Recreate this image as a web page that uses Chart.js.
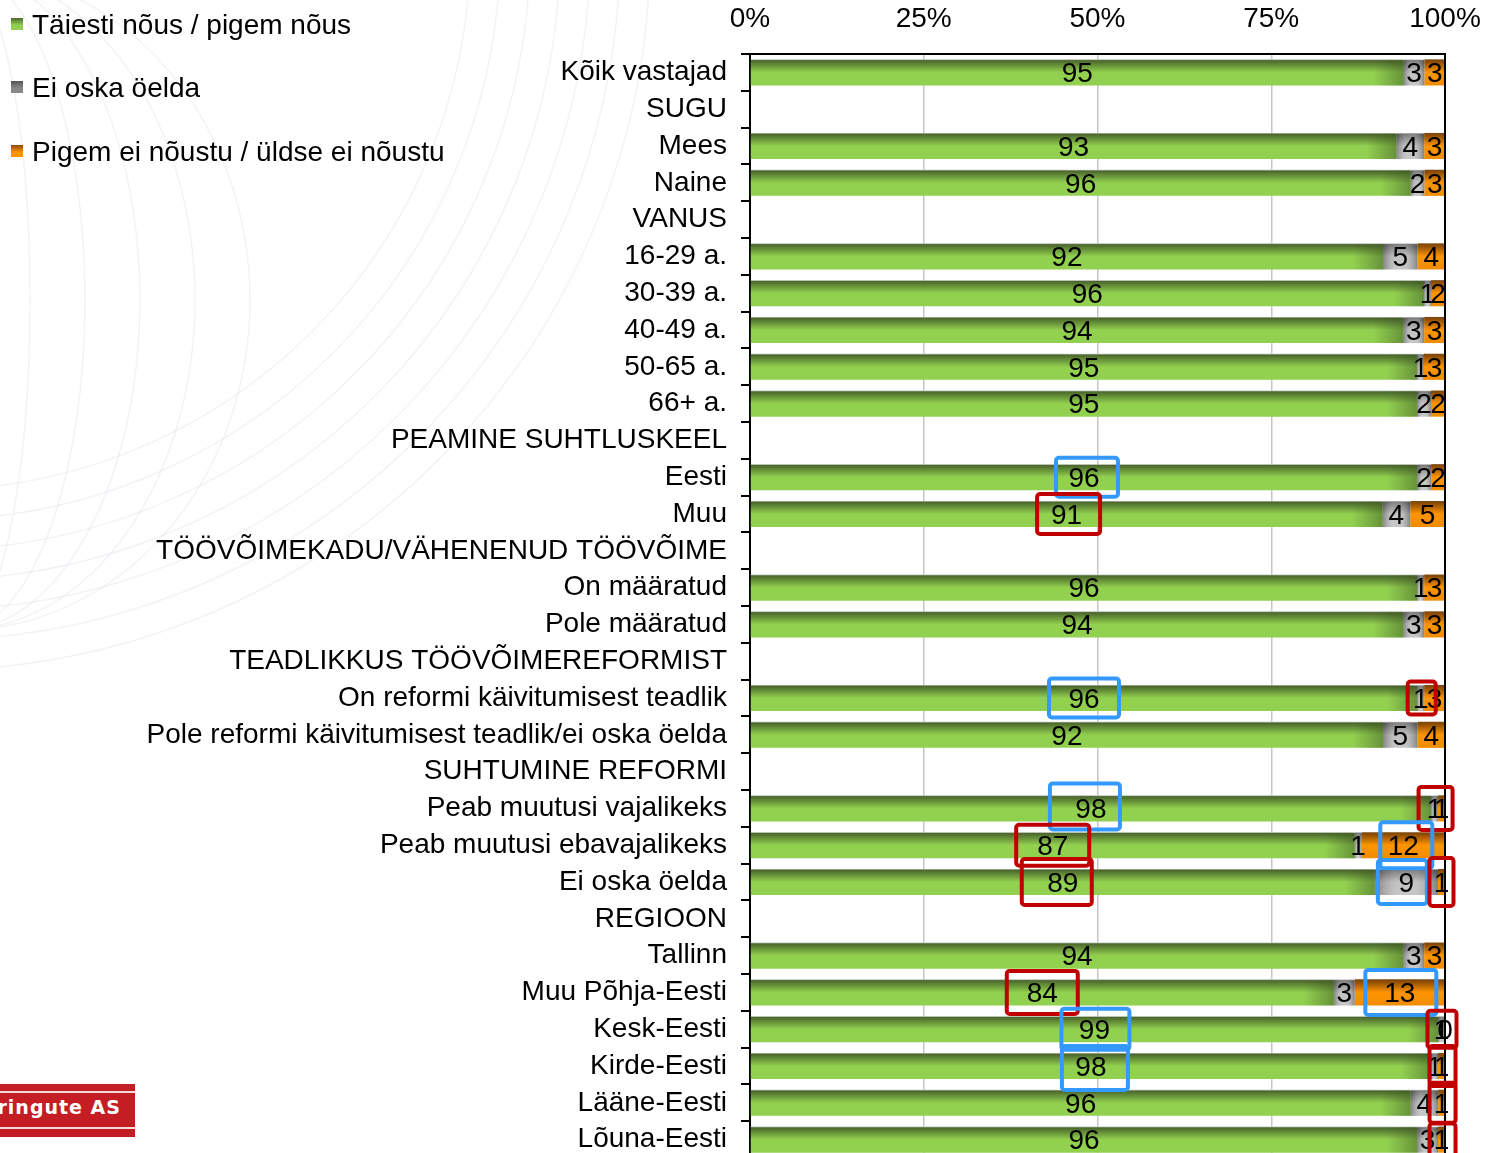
<!DOCTYPE html>
<html>
<head>
<meta charset="utf-8">
<script src="https://cdn.jsdelivr.net/npm/chart.js@4.4.1/dist/chart.umd.min.js"></script>
<style>
  body { margin: 0; overflow: hidden; background: #fff; font-family: "Liberation Sans", Arial, sans-serif; }
  #wrap { position: relative; width: 1487px; height: 1153px; overflow: hidden; }
  #chart { position: absolute; left: 0; top: 0; }
  .legend { position: absolute; left: 11px; font-size: 28px; color: #000; line-height: 32px; white-space: nowrap; }
  .legend span.box { display: inline-block; width: 12px; height: 12px; margin-right: 9px; vertical-align: 4px; }
  #logo { position: absolute; left: 0; top: 1084px; width: 135px; height: 53px; background: #c41e24; overflow: hidden; }
  #logo .line { position: absolute; left: 0; width: 135px; height: 2px; background: #f4dcdc; }
  #logo .txt { position: absolute; right: 14px; top: 12px; color: #fff; font: bold 19px "DejaVu Sans", sans-serif; letter-spacing: 1px; white-space: nowrap; }
</style>
</head>
<body>
<div id="wrap">
  <canvas id="chart" width="1487" height="1200"></canvas>
  <div id="legend"></div>
  <div id="logo"><div class="line" style="top:7px"></div><div class="txt">Turu-uuringute AS</div><div class="line" style="top:43px"></div></div>
</div>
<script>
// values (percent, as printed)
const categories = [
  'Kõik vastajad', 'SUGU', 'Mees', 'Naine', 'VANUS', '16-29 a.', '30-39 a.', '40-49 a.', '50-65 a.', '66+ a.',
  'PEAMINE SUHTLUSKEEL', 'Eesti', 'Muu', 'TÖÖVÕIMEKADU/VÄHENENUD TÖÖVÕIME', 'On määratud', 'Pole määratud',
  'TEADLIKKUS TÖÖVÕIMEREFORMIST', 'On reformi käivitumisest teadlik', 'Pole reformi käivitumisest teadlik/ei oska öelda',
  'SUHTUMINE REFORMI', 'Peab muutusi vajalikeks', 'Peab muutusi ebavajalikeks', 'Ei oska öelda',
  'REGIOON', 'Tallinn', 'Muu Põhja-Eesti', 'Kesk-Eesti', 'Kirde-Eesti', 'Lääne-Eesti', 'Lõuna-Eesti'
];
const agree    = [95, null, 93, 96, null, 92, 96, 94, 95, 95, null, 96, 91, null, 96, 94, null, 96, 92, null, 98, 87, 89, null, 94, 84, 99, 98, 96, 96];
const dontKnow = [3, null, 4, 2, null, 5, 1, 3, 1, 2, null, 2, 4, null, 1, 3, null, 1, 5, null, 1, 1, 9, null, 3, 3, 1, 1, 4, 3];
const disagree = [3, null, 3, 3, null, 4, 2, 3, 3, 2, null, 2, 5, null, 3, 3, null, 3, 4, null, 1, 12, 1, null, 3, 13, 0, 1, 1, 1];
const seriesNames = ['Täiesti nõus / pigem nõus', 'Ei oska öelda', 'Pigem ei nõustu / üldse ei nõustu'];
const tickLabels = ['0%', '25%', '50%', '75%', '100%'];

// highlight boxes drawn over the labels (row, series, box size, offset)
const highlights = [
  { row: 'Eesti', ds: 0, color: '#3399ff', w: 62, h: 39, dx: 3 },
  { row: 'Muu', ds: 0, color: '#c00000', w: 63, h: 40, dx: 2 },
  { row: 'On reformi käivitumisest teadlik', ds: 0, color: '#3399ff', w: 70, h: 39, dx: 0 },
  { row: 'On reformi käivitumisest teadlik', ds: 1, color: '#c00000', w: 28, h: 33, dx: 1 },
  { row: 'Peab muutusi vajalikeks', ds: 0, color: '#3399ff', w: 70, h: 46, dx: -6, dy: -2 },
  { row: 'Peab muutusi vajalikeks', ds: 1, color: '#c00000', w: 34, h: 43, dx: 1 },
  { row: 'Peab muutusi ebavajalikeks', ds: 0, color: '#c00000', w: 73, h: 41, dx: 0 },
  { row: 'Peab muutusi ebavajalikeks', ds: 2, color: '#3399ff', w: 52, h: 46, dx: 3 },
  { row: 'Ei oska öelda', ds: 0, color: '#c00000', w: 70, h: 46, dx: -6 },
  { row: 'Ei oska öelda', ds: 1, color: '#3399ff', w: 49, h: 44, dx: -4 },
  { row: 'Ei oska öelda', ds: 2, color: '#c00000', w: 24, h: 48, dx: 0 },
  { row: 'Muu Põhja-Eesti', ds: 0, color: '#c00000', w: 71, h: 43, dx: 0 },
  { row: 'Muu Põhja-Eesti', ds: 2, color: '#3399ff', w: 71, h: 45, dx: 1 },
  { row: 'Kesk-Eesti', ds: 0, color: '#3399ff', w: 68, h: 41, dx: 1 },
  { row: 'Kesk-Eesti', ds: 2, color: '#c00000', w: 29, h: 37, dx: -3 },
  { row: 'Kirde-Eesti', ds: 0, color: '#3399ff', w: 66, h: 44, dx: 4, dy: 2 },
  { row: 'Kirde-Eesti', ds: 2, color: '#c00000', w: 26, h: 40, dx: 1 },
  { row: 'Lääne-Eesti', ds: 2, color: '#c00000', w: 26, h: 40, dx: 1 },
  { row: 'Lõuna-Eesti', ds: 2, color: '#c00000', w: 26, h: 40, dx: 1, dy: 4 }
];

const FONT = '"Liberation Sans", Arial, sans-serif';
const FONT_SIZE = 28;
const BAR_PCT = 0.71;

const raw = [agree, dontKnow, disagree];
// 100% stacked, like the original spreadsheet chart
const totals = categories.map((c, i) => raw.reduce((s, a) => s + (a[i] || 0), 0));
const pct = raw.map(a => a.map((v, i) => v === null ? null : v / totals[i] * 100));

function barGradient(stops) {
  return function (ctx) {
    const chart = ctx.chart;
    const ys = chart.scales.y;
    if (ctx.type !== 'data' || !chart.chartArea || !ys) return stops[stops.length - 1][1];
    const cy = ys.getPixelForValue(ctx.dataIndex);
    const h = ys.height / categories.length * BAR_PCT;
    const g = chart.ctx.createLinearGradient(0, cy - h / 2, 0, cy + h / 2);
    stops.forEach(s => g.addColorStop(s[0], s[1]));
    return g;
  };
}

const greenStops = [[0, '#c8c8c8'], [0.05, '#4b672b'], [0.5, '#92d050'], [1, '#92d050']];
const grayStops = [[0, '#d0d0d0'], [0.05, '#6a6a6a'], [0.5, '#b8b8b8'], [1, '#bdbdbd']];
const orangeStops = [[0, '#7a4a10'], [0.08, '#8a4a00'], [0.5, '#ff9400'], [1, '#f08c00']];

const bgArcs = {
  id: 'bgArcs',
  beforeDraw(chart) {
    const c = chart.ctx;
    c.save();
    c.strokeStyle = 'rgba(210,216,225,0.3)';
    c.lineWidth = 1.5;
    for (let r = 540; r <= 720; r += 30) {
      c.beginPath();
      c.arc(-70, -50, r, 0, Math.PI / 2);
      c.stroke();
    }
    for (let k = 0; k < 5; k++) {
      c.beginPath();
      c.ellipse(-40, 300, 70 + k * 55, 330, 0, -Math.PI / 2, Math.PI / 2);
      c.stroke();
    }
    c.restore();
  }
};

const barLook = {
  id: 'barLook',
  afterDatasetsDraw(chart) {
    const c = chart.ctx;
    c.save();
    chart.getDatasetMeta(0).data.forEach((el, i) => {
      if (agree[i] === null) return;
      const x1 = el.x, h = el.height;
      const g = c.createLinearGradient(x1 - 30, 0, x1, 0);
      g.addColorStop(0, 'rgba(60,85,35,0)');
      g.addColorStop(1, 'rgba(60,85,35,0.5)');
      c.fillStyle = g;
      c.fillRect(x1 - 30, el.y - h / 2 + 1, 30, h - 1);
    });
    chart.getDatasetMeta(1).data.forEach((el, i) => {
      if (dontKnow[i] === null) return;
      const x0 = el.base, x1 = el.x, h = el.height;
      if (x1 - x0 < 1) return;
      const g = c.createLinearGradient(x0, 0, x1, 0);
      g.addColorStop(0, 'rgba(0,0,0,0.3)');
      g.addColorStop(0.35, 'rgba(255,255,255,0.15)');
      g.addColorStop(0.65, 'rgba(255,255,255,0.15)');
      g.addColorStop(1, 'rgba(0,0,0,0.3)');
      c.fillStyle = g;
      c.fillRect(x0, el.y - h / 2 + 1, x1 - x0, h - 1);
    });
    // right border of the plot
    const a = chart.chartArea;
    c.strokeStyle = '#000';
    c.lineWidth = 2;
    c.beginPath();
    c.moveTo(a.right, a.top - 1);
    c.lineTo(a.right, a.bottom);
    c.stroke();
    c.restore();
  }
};

const valueLabels = {
  id: 'valueLabels',
  afterDatasetsDraw(chart) {
    const c = chart.ctx;
    c.save();
    c.font = FONT_SIZE + 'px ' + FONT;
    c.fillStyle = '#000';
    c.textAlign = 'center';
    c.textBaseline = 'middle';
    raw.forEach((arr, d) => {
      chart.getDatasetMeta(d).data.forEach((el, i) => {
        if (arr[i] === null) return;
        c.fillText(String(arr[i]), (el.base + el.x) / 2, el.y + 2);
      });
    });
    c.restore();
  }
};

const boxes = {
  id: 'boxes',
  afterDraw(chart) {
    const c = chart.ctx;
    c.save();
    c.lineWidth = 4;
    highlights.forEach(hl => {
      const i = categories.indexOf(hl.row);
      const el = chart.getDatasetMeta(hl.ds).data[i];
      if (!el) return;
      const cx = (el.base + el.x) / 2 + (hl.dx || 0);
      const cy = el.y + (hl.dy || 0);
      c.strokeStyle = hl.color;
      c.beginPath();
      c.roundRect(cx - hl.w / 2, cy - hl.h / 2, hl.w, hl.h, 3);
      c.stroke();
    });
    c.restore();
  }
};

const ctx = document.getElementById('chart').getContext('2d');
const chart = new Chart(ctx, {
  type: 'bar',
  data: {
    labels: categories,
    datasets: [
      { label: seriesNames[0], data: pct[0], backgroundColor: barGradient(greenStops) },
      { label: seriesNames[1], data: pct[1], backgroundColor: barGradient(grayStops) },
      { label: seriesNames[2], data: pct[2], backgroundColor: barGradient(orangeStops) }
    ]
  },
  options: {
    indexAxis: 'y',
    responsive: false,
    animation: false,
    events: [],
    barPercentage: BAR_PCT,
    categoryPercentage: 1,
    layout: { padding: { left: 0, right: 42, top: 0, bottom: 42 } },
    scales: {
      x: {
        position: 'top',
        stacked: true,
        min: 0,
        max: 100,
        afterFit: s => { s.height = 54; s.paddingLeft = 0; s.paddingRight = 0; },
        afterBuildTicks: s => { s.ticks = tickLabels.map((t, k) => ({ value: k * 25 })); },
        ticks: {
          callback: (v, k) => tickLabels[k],
          font: { family: FONT, size: FONT_SIZE },
          color: '#000',
          padding: 18,
          maxRotation: 0
        },
        grid: { color: '#c6c6c6', lineWidth: 1.5, drawTicks: false },
        border: { color: '#000', width: 2 }
      },
      y: {
        stacked: true,
        afterFit: s => { s.width = 750; },
        ticks: {
          autoSkip: false,
          font: { family: FONT, size: FONT_SIZE },
          color: '#000',
          padding: 14
        },
        grid: { drawOnChartArea: false, color: '#000', tickLength: 9, lineWidth: 2, offset: true },
        border: { color: '#000', width: 2 }
      }
    },
    plugins: {
      legend: { display: false },
      tooltip: { enabled: false }
    }
  },
  plugins: [bgArcs, barLook, valueLabels, boxes]
});

// pin the bottom of the plot area to where the original has it (below the visible page)
chart.options.layout.padding.bottom += chart.chartArea.bottom - 1158;
chart.update();

// legend in the top-left corner, as in the original
const legendColors = [
  'linear-gradient(#4b672b, #92d050 60%)',
  'linear-gradient(#555, #888 60%)',
  'linear-gradient(#8a4a00, #ff9400 60%)'
];
const legendTops = [9, 72, 136];
const legendEl = document.getElementById('legend');
seriesNames.forEach((name, k) => {
  const d = document.createElement('div');
  d.className = 'legend';
  d.style.top = legendTops[k] + 'px';
  d.innerHTML = '<span class="box" style="background:' + legendColors[k] + '"></span>' + name;
  legendEl.appendChild(d);
});
</script>
</body>
</html>
